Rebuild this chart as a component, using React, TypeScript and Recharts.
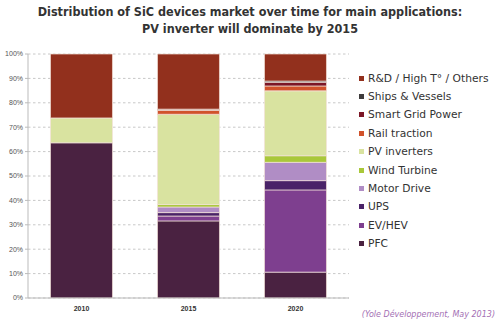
import { Bar, BarChart, CartesianGrid, XAxis, YAxis } from "recharts";

const YEARS = ["2010", "2015", "2020"];

// stacked shares in %, bottom to top
const PFC = [63.6, 31.6, 10.6];
const EV_HEV = [0, 2.0, 33.7];
const UPS = [0, 1.4, 3.8];
const MOTOR_DRIVE = [0, 2.3, 7.5];
const WIND_TURBINE = [0, 1.0, 2.7];
const PV_INVERTERS = [10.2, 37.0, 26.6];
const RAIL_TRACTION = [0, 1.6, 2.0];
const SMART_GRID = [0, 0.3, 1.5];
const SHIPS = [0, 0.2, 0.5];
const RND = [26.2, 22.6, 11.1];

const Y_TICKS = [0, 10, 20, 30, 40, 50, 60, 70, 80, 90, 100];

const SERIES = [
  { key: "pfc", name: "PFC", values: PFC, color: "#4a2241" },
  { key: "ev", name: "EV/HEV", values: EV_HEV, color: "#7e3f8f" },
  { key: "ups", name: "UPS", values: UPS, color: "#4a2368" },
  { key: "motor", name: "Motor Drive", values: MOTOR_DRIVE, color: "#b08dc5" },
  { key: "wind", name: "Wind Turbine", values: WIND_TURBINE, color: "#a9c83a" },
  { key: "pv", name: "PV inverters", values: PV_INVERTERS, color: "#d9e3a0" },
  { key: "rail", name: "Rail traction", values: RAIL_TRACTION, color: "#d1522b" },
  { key: "grid", name: "Smart Grid Power", values: SMART_GRID, color: "#7c1626" },
  { key: "ships", name: "Ships & Vessels", values: SHIPS, color: "#3e3b3c" },
  { key: "rnd", name: "R&D / High T° / Others", values: RND, color: "#92301d" },
];

const data = YEARS.map((year, i) => {
  const row: Record<string, string | number> = { year };
  SERIES.forEach((s) => { row[s.key] = s.values[i]; });
  return row;
});

const AXIS = "#555";
const GRID = "#c8c8c8";
const FONT = "'DejaVu Sans', Verdana, sans-serif";

// legend drawn outside the chart so it doesn't eat plot width
function LegendBox() {
  return (
    <div style={{ position: "absolute", left: 359, top: 69, fontFamily: FONT, fontSize: 10.7, color: "#333" }}>
      {[...SERIES].reverse().map((s) => (
        <div key={s.key} style={{ display: "flex", alignItems: "center", height: 18.4, whiteSpace: "nowrap" }}>
          <span style={{ width: 5, height: 5, background: s.color, marginRight: 4, display: "inline-block" }} />
          {s.name}
        </div>
      ))}
    </div>
  );
}

export default function App() {
  return (
    <div style={{ position: "absolute", left: 0, top: 0, width: 500, height: 328, background: "#fff" }}>
      <div style={{
        position: "absolute", left: 0, top: 3, width: 500, textAlign: "center",
        fontFamily: FONT, fontWeight: "bold", fontSize: 12.5,
        fontStretch: "condensed", lineHeight: "17px", color: "#333",
      }}>
        Distribution of SiC devices market over time for main applications:<br />
        PV inverter will dominate by 2015
      </div>
      <BarChart width={500} height={328} data={data} barCategoryGap="21%"
                margin={{ top: 54, right: 151, bottom: 10, left: 0 }}>
        <CartesianGrid stroke={GRID} strokeDasharray="2.5 2.5" vertical={false} />
        <XAxis dataKey="year" tick={{ fontSize: 7, fill: "#333", fontWeight: "bold", fontFamily: "Arial, sans-serif" }}
               stroke="#bbb" tickLine={false} height={20} />
        <YAxis domain={[0, 100]} ticks={Y_TICKS} tickFormatter={(v) => `${v}%`} width={28}
               tick={{ fontSize: 7, fill: AXIS, fontFamily: "Arial, sans-serif" }}
               stroke="#bbb" tickSize={3} interval={0} />
        {SERIES.map((s) => (
          <Bar key={s.key} dataKey={s.key} name={s.name} stackId="a" fill={s.color}
               stroke="#f4e2da" strokeWidth={0.7} isAnimationActive={false} />
        ))}
      </BarChart>
      <LegendBox />
      <div style={{
        position: "absolute", right: 5, top: 310, fontFamily: FONT,
        fontStyle: "italic", fontSize: 8, color: "#a46fb4",
      }}>
        (Yole Développement, May 2013)
      </div>
    </div>
  );
}
